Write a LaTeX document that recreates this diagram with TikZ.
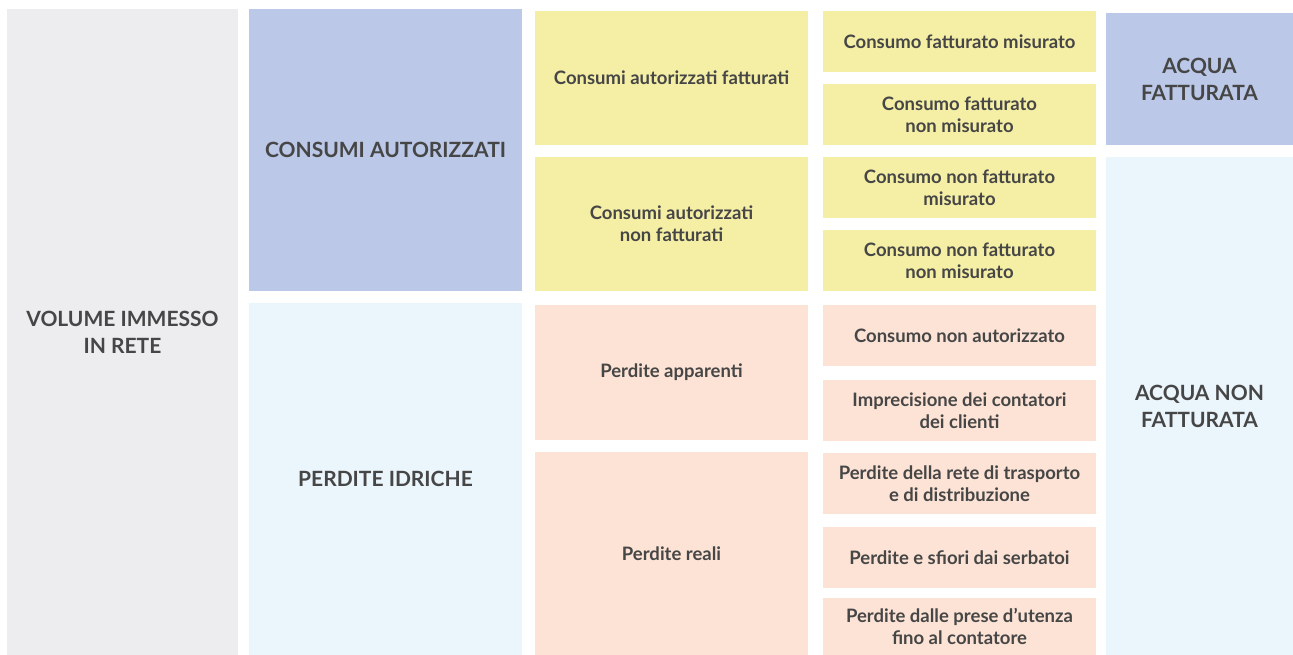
\documentclass[tikz,border=0pt]{standalone}
\usepackage{fontspec}
\setmainfont{Lato}
\definecolor{volgray}{HTML}{EDEDEF}
\definecolor{autblue}{HTML}{BBC8E7}
\definecolor{lossblue}{HTML}{EBF5FC}
\definecolor{billyel}{HTML}{F5EFA5}
\definecolor{losspeach}{HTML}{FCE3D5}
\definecolor{inkdark}{HTML}{464646}
\begin{document}
\begin{tikzpicture}[x=1pt,y=-1pt,
  cell/.style={rectangle,inner sep=0pt,outer sep=0pt,draw=none,align=center,
    text=inkdark,font=\bfseries},
  head/.style={cell,font=\fontsize{21}{27}\selectfont\bfseries},
  item/.style={cell,font=\fontsize{18.5}{22}\selectfont\bfseries},
  colA/.style={minimum width=231pt},
  colB/.style={minimum width=273pt},
  colE/.style={minimum width=187pt}]
\useasboundingbox (0,0) rectangle (1293,655);
\fill[white] (0,0) rectangle (1293,655);

% first column: inflow volume
\node[head,colA,fill=volgray,minimum height=646pt] (vol) at (122.5,332) {VOLUME IMMESSO\\IN RETE};

% second column: authorised use and losses
\node[head,colB,fill=autblue,minimum height=282pt] (ca) at (385.5,150) {CONSUMI AUTORIZZATI};
\node[head,colB,fill=lossblue,minimum height=352pt] (pi) at (385.5,479) {PERDITE IDRICHE};

% third column
\node[item,colB,fill=billyel,minimum height=134pt] (caf) at (671.5,78) {Consumi autorizzati fatturati};
\node[item,colB,fill=billyel,minimum height=134pt] (canf) at (671.5,224) {Consumi autorizzati\\non fatturati};
\node[item,colB,fill=losspeach,minimum height=135pt] (pa) at (671.5,372.5) {Perdite apparenti};
\node[item,colB,fill=losspeach,minimum height=203pt] (pr) at (671.5,553.5) {Perdite reali};

% fourth column: detailed components
\node[item,colB,fill=billyel,minimum height=61pt] (c1) at (959.5,41.5) {Consumo fatturato misurato};
\node[item,colB,fill=billyel,minimum height=61pt] (c2) at (959.5,114.5) {Consumo fatturato\\non misurato};
\node[item,colB,fill=billyel,minimum height=61pt] (c3) at (959.5,187.5) {Consumo non fatturato\\misurato};
\node[item,colB,fill=billyel,minimum height=61pt] (c4) at (959.5,260.5) {Consumo non fatturato\\non misurato};
\node[item,colB,fill=losspeach,minimum height=61pt] (c5) at (959.5,335.5) {Consumo non autorizzato};
\node[item,colB,fill=losspeach,minimum height=61pt] (c6) at (959.5,410.5) {Imprecisione dei contatori\\dei clienti};
\node[item,colB,fill=losspeach,minimum height=61pt] (c7) at (959.5,483.5) {Perdite della rete di trasporto\\e di distribuzione};
\node[item,colB,fill=losspeach,minimum height=61pt] (c8) at (959.5,557.5) {Perdite e sfiori dai serbatoi};
\node[item,colB,fill=losspeach,minimum height=57pt] (c9) at (959.5,626.5) {Perdite dalle prese d’utenza\\fino al contatore};

% fifth column: billed / non-billed water
\node[head,colE,fill=autblue,minimum height=132pt] (af) at (1199.5,79) {ACQUA\\FATTURATA};
\node[head,colE,fill=lossblue,minimum height=498pt] (anf) at (1199.5,406) {ACQUA NON\\FATTURATA};
\end{tikzpicture}
\end{document}
